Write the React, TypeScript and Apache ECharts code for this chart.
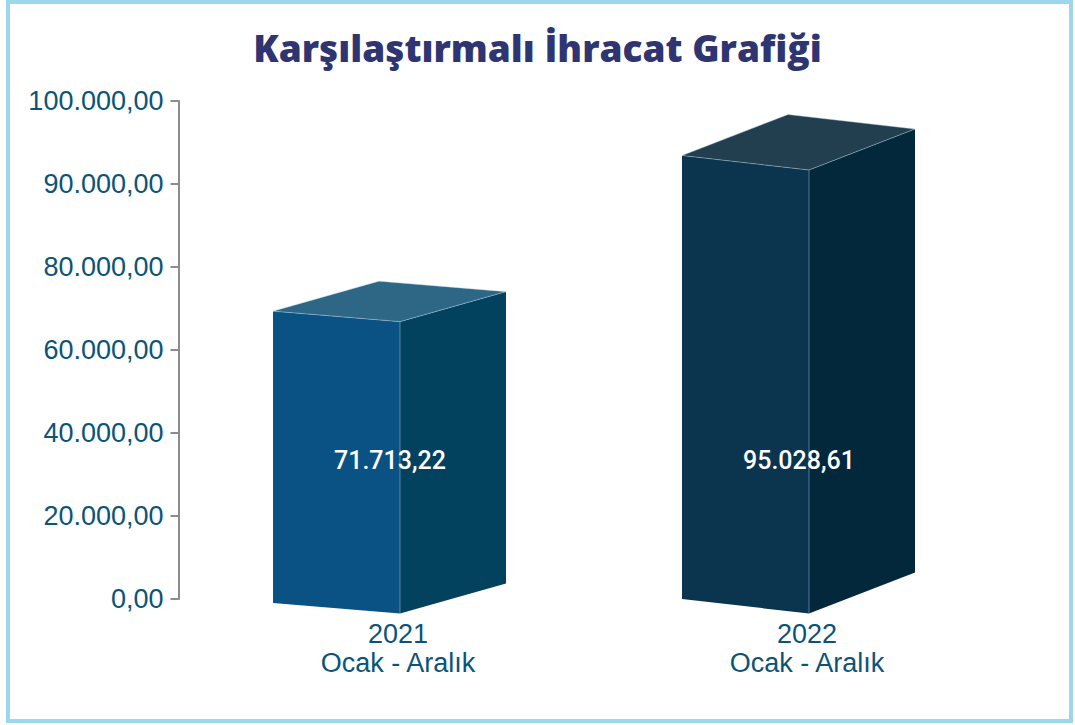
import React, { useEffect, useRef } from "react";
import * as echarts from "echarts";

const categories = ["2021\nOcak - Aralık", "2022\nOcak - Aralık"];
const values = [71713.22, 95028.61];
const valueLabels = ["71.713,22", "95.028,61"];
const tickValues = [0, 20000, 40000, 60000, 80000, 90000, 100000];
const tickLabels = ["0,00", "20.000,00", "40.000,00", "60.000,00", "80.000,00", "90.000,00", "100.000,00"];

const frontColors = ["#0a5283", "#0b344f"];
const sideColors = ["#03425f", "#03283c"];
const topColors = ["#2e6786", "#213f4f"];

// position of a value on the chart's own (unevenly labelled) axis, in tick units
function toAxisUnits(v: number): number {
  for (let i = 0; i < tickValues.length - 1; i++) {
    if (v >= tickValues[i] && v <= tickValues[i + 1]) {
      return i + (v - tickValues[i]) / (tickValues[i + 1] - tickValues[i]);
    }
  }
  return tickValues.length - 1;
}

export default function App() {
  const ref = useRef<HTMLDivElement>(null);
  useEffect(() => {
    if (!ref.current) return;
    const chart = echarts.init(ref.current, null, { renderer: "svg" });
    const n = values.length;
    const font = '"Liberation Sans", Arial, sans-serif';
    chart.setOption({
      animation: false,
      backgroundColor: "#ffffff",
      title: {
        text: "Karşılaştırmalı İhracat Grafiği",
        left: "center",
        top: 24,
        textStyle: { fontFamily: '"Open Sans"', fontWeight: 800, fontSize: 37, color: "#2e3570" },
      },
      graphic: [
        {
          type: "rect",
          shape: { x: 8, y: 2, width: 1063, height: 719 },
          style: { fill: "none", stroke: "#9dd7ee", lineWidth: 4 },
          silent: true,
        },
      ],
      grid: { left: 193.5, width: 818, top: 101, bottom: 126 },
      xAxis: {
        type: "category",
        data: categories,
        axisLine: { show: false },
        axisTick: { show: false },
        axisLabel: { color: "#0b5478", fontSize: 27, fontFamily: font, lineHeight: 29, margin: 20 },
      },
      yAxis: {
        type: "value",
        min: 0,
        max: tickValues.length - 1,
        interval: 1,
        offset: 15,
        axisLine: { show: true, lineStyle: { color: "#8c8c8c", width: 2 } },
        axisTick: { show: true, length: 8, lineStyle: { color: "#8c8c8c", width: 2 } },
        splitLine: { show: false },
        axisLabel: {
          color: "#0b5478",
          fontSize: 27,
          fontFamily: font,
          margin: 15,
          formatter: (v: number) => tickLabels[Math.round(v)] ?? "",
        },
      },
      series: [
        {
          type: "custom",
          data: values.map((v, i) => [i, toAxisUnits(v), v]),
          renderItem: (params: any, api: any) => {
            const i = params.dataIndex;
            const t = n > 1 ? i / (n - 1) : 0;
            const top = api.coord([api.value(0), api.value(1)]);
            const base = api.coord([api.value(0), 0]);
            const cx = top[0];
            const slope = 10.5 + 4 * t;
            const dy = 30 + 11 * t;
            const b = 4 - 4 * t;
            const w = 127;
            const sdx = 106;
            const xL = cx - 125;
            const xR = xL + w;
            const yTop = top[1] - slope / 2 + dy / 2;
            const yBot = base[1] + b;
            const flT = [xL, yTop];
            const frT = [xR, yTop + slope];
            const flB = [xL, yBot];
            const frB = [xR, yBot + slope];
            const srT = [xR + sdx, yTop + slope - dy];
            const srB = [xR + sdx, yBot + slope - dy];
            const blT = [xL + sdx, yTop - dy];
            const edge = "rgba(185,215,235,0.55)";
            return {
              type: "group",
              children: [
                {
                  type: "polygon",
                  shape: { points: [flT, frT, frB, flB] },
                  style: { fill: frontColors[i] },
                },
                {
                  type: "polygon",
                  shape: { points: [frT, srT, srB, frB] },
                  style: { fill: sideColors[i] },
                },
                {
                  type: "polygon",
                  shape: { points: [flT, blT, srT, frT] },
                  style: { fill: topColors[i], stroke: edge, lineWidth: 0.8 },
                },
                {
                  type: "line",
                  shape: { x1: frT[0], y1: frT[1], x2: frB[0], y2: frB[1] },
                  style: { stroke: edge, lineWidth: 0.8 },
                },
                {
                  type: "text",
                  x: cx - 8,
                  y: base[1] - 139,
                  style: {
                    text: valueLabels[i],
                    fill: "#ffffff",
                    fontSize: 25,
                    fontWeight: 500,
                    fontFamily: "Roboto",
                    align: "center",
                    verticalAlign: "middle",
                  },
                },
              ],
            };
          },
        },
      ],
    });
    return () => chart.dispose();
  }, []);
  return (
    <div
      ref={ref}
      style={{ position: "fixed", left: 0, top: 0, width: 1075, height: 725 }}
    />
  );
}
